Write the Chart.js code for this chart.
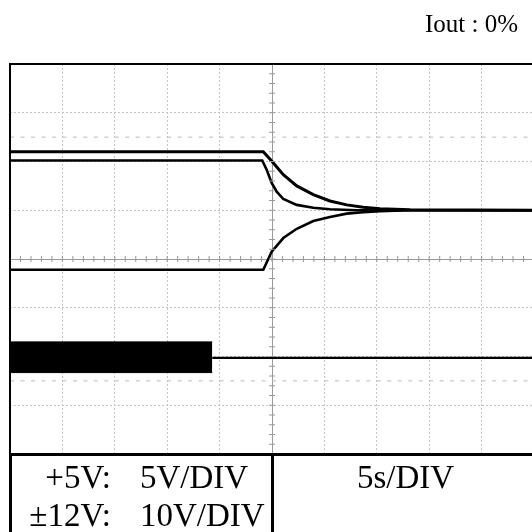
<!DOCTYPE html>
<html>
<head>
<meta charset="utf-8">
<script src="https://cdn.jsdelivr.net/npm/chart.js@4.4.0/dist/chart.umd.min.js"></script>
<style>
  html, body { margin: 0; padding: 0; background: #fff; overflow: hidden; width: 532px; height: 532px; }
  #wrap { position: absolute; left: 0; top: 0; width: 545px; height: 460px; }
  .txt { position: absolute; font-family: "Liberation Serif", "Times New Roman", serif; color: #000; white-space: pre; line-height: 1; }
  #iout { font-size: 25px; right: 14px; top: 11px; }
  #table { position: absolute; left: 9px; top: 453px; width: 540px; height: 90px; border-left: 3px solid #000; border-top: 3px solid #000; }
  #divider { position: absolute; left: 271px; top: 453px; width: 3px; height: 90px; background: #000; }
  .cell { font-size: 33px; }
</style>
</head>
<body>
<div id="wrap"><canvas id="scope" width="545" height="460"></canvas></div>
<div class="txt" id="iout">Iout : 0%</div>
<div id="table"></div>
<div id="divider"></div>
<div class="txt cell" style="right:421px; top:461px;">+5V:</div>
<div class="txt cell" style="left:140px; top:461px;">5V/DIV</div>
<div class="txt cell" style="right:421px; top:499px;">±12V:</div>
<div class="txt cell" style="left:140px; top:499px;">10V/DIV</div>
<div class="txt cell" style="left:357px; top:461px;">5s/DIV</div>
<script>
'use strict';

// time in seconds (5 s/div), level in divisions
const timeA = [0, 24.17, 24.97, 26.08, 27.36, 28.94, 30.53, 32.13, 33.71, 35.31, 38.17, 50];
const levelA = [2.2, 2.2, 2.01, 1.73, 1.5, 1.32, 1.19, 1.11, 1.06, 1.03, 1.01, 1.0];

const timeB = [0, 24.07, 24.49, 24.97, 25.45, 26.08, 27.36, 28.94, 30.53, 33.08, 50];
const levelB = [2.02, 2.02, 1.83, 1.56, 1.38, 1.23, 1.11, 1.05, 1.02, 1.0, 1.0];

const timeC = [0, 24.17, 24.97, 26.08, 27.36, 28.94, 30.53, 32.13, 33.71, 35.31, 38.17, 50];
const levelC = [-0.22, -0.22, 0.15, 0.43, 0.62, 0.78, 0.86, 0.93, 0.96, 0.98, 1.0, 1.0];

// +5V ripple band and the line after it stops
const bandTime = [0, 19.3];
const bandTop = [-1.7, -1.7];
const bandBottom = [-2.33, -2.33];
const tailTime = [19.3, 50];
const tailLevel = [-2.03, -2.03];

// faint reference marks
const refLevels = [2.5, -2.5];

const xMin = 0, xMax = 50, xStep = 5;
const yMin = -4, yMax = 4, yStep = 1;

function pts(xs, ys) {
    return xs.map((x, i) => ({x: x, y: ys[i]}));
}

function trace(data, width) {
    return {
        data: data,
        borderColor: '#000',
        backgroundColor: '#000',
        borderWidth: width,
        pointRadius: 0,
        tension: 0,
        fill: false
    };
}

const datasets = [];
refLevels.forEach(v => {
    datasets.push({
        data: pts([xMin, xMax], [v, v]),
        borderColor: '#bbb',
        borderWidth: 1,
        borderDash: [4, 6.48],
        pointRadius: 0,
        fill: false
    });
});
datasets.push(Object.assign(trace(pts(bandTime, bandTop), 1), {fill: '+1'}));
datasets.push(trace(pts(bandTime, bandBottom), 1));
datasets.push(trace(pts(tailTime, tailLevel), 2.2));
datasets.push(trace(pts(timeC, levelC), 2.6));
datasets.push(trace(pts(timeB, levelB), 2.6));
datasets.push(trace(pts(timeA, levelA), 3));

// graticule: minor ticks on the centre lines and the outer frame
const graticule = {
    id: 'graticule',
    afterDraw(chart) {
        const ctx = chart.ctx;
        const x = chart.scales.x, y = chart.scales.y;
        const a = chart.chartArea;
        const cx = x.getPixelForValue((xMin + xMax) / 2);
        const cy = y.getPixelForValue(0);
        ctx.save();
        ctx.strokeStyle = '#999';
        ctx.lineWidth = 1;
        ctx.beginPath();
        for (let t = xMin; t <= xMax; t += 1) {
            const px = x.getPixelForValue(t);
            ctx.moveTo(px, cy - 3);
            ctx.lineTo(px, cy + 3);
        }
        for (let v = yMin; v <= yMax; v += 0.2) {
            const py = y.getPixelForValue(v);
            ctx.moveTo(cx - 3, py);
            ctx.lineTo(cx + 3, py);
        }
        ctx.stroke();
        ctx.strokeStyle = '#000';
        ctx.lineWidth = 2;
        ctx.strokeRect(a.left, a.top, a.right - a.left, a.bottom - a.top);
        ctx.restore();
    }
};

new Chart(document.getElementById('scope'), {
    type: 'line',
    data: { datasets: datasets },
    options: {
        responsive: false,
        animation: false,
        layout: { padding: { left: 10, top: 64, right: 11, bottom: 6 } },
        plugins: { legend: { display: false }, tooltip: { enabled: false } },
        scales: {
            x: {
                type: 'linear',
                min: xMin,
                max: xMax,
                ticks: { display: false, stepSize: xStep },
                grid: {
                    drawTicks: false,
                    color: ctx => ctx.tick && ctx.tick.value === 25 ? '#999' : '#c4c4c4',
                    lineWidth: 1
                },
                border: { display: false, dash: ctx => ctx.tick && ctx.tick.value === 25 ? [] : [2, 2] }
            },
            y: {
                type: 'linear',
                min: yMin,
                max: yMax,
                ticks: { display: false, stepSize: yStep },
                grid: {
                    drawTicks: false,
                    color: ctx => ctx.tick && ctx.tick.value === 0 ? '#999' : '#c4c4c4',
                    lineWidth: 1
                },
                border: { display: false, dash: ctx => ctx.tick && ctx.tick.value === 0 ? [] : [2, 2] }
            }
        }
    },
    plugins: [graticule]
});
</script>
</body>
</html>
